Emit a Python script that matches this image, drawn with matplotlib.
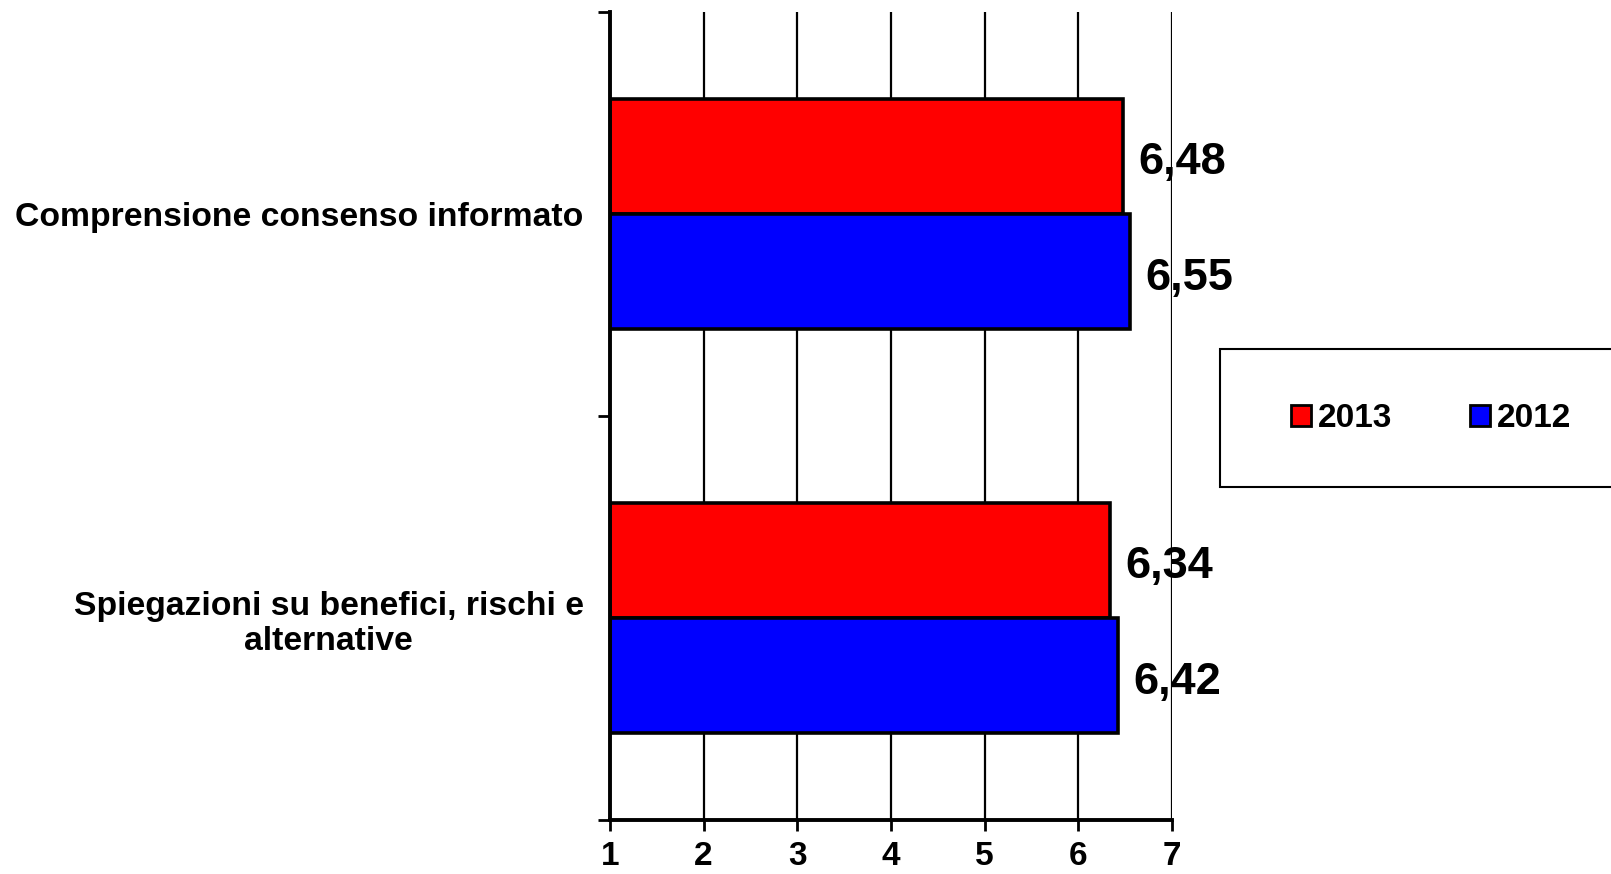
import matplotlib.pyplot as plt
from matplotlib.patches import Patch, Rectangle

categorie = ["Spiegazioni su benefici, rischi e\nalternative", "Comprensione consenso informato"]
anni = ["2013", "2012"]
valori_2013 = [6.34, 6.48]
valori_2012 = [6.42, 6.55]
colori = ["#ff0000", "#0000ff"]
x_ticks = [1, 2, 3, 4, 5, 6, 7]

plt.rcParams['font.family'] = ['Liberation Sans', 'DejaVu Sans']

fig = plt.figure(figsize=(16.11, 8.74), dpi=100)
ax = fig.add_axes([610 / 1611, 54 / 874, 562 / 1611, 808 / 874])

h = 0.285
pos = list(range(len(categorie)))
base = x_ticks[0]
for serie, col, off in [(valori_2013, colori[0], h / 2), (valori_2012, colori[1], -h / 2)]:
    y = [p + off for p in pos]
    ax.barh(y, [v - base for v in serie], left=base, height=h, color=col,
            edgecolor="black", linewidth=2.6, zorder=3)
    for yy, v in zip(y, serie):
        ax.annotate(f"{v:.2f}".replace(".", ","), (v, yy), xytext=(11, -13),
                    textcoords="offset points", va="baseline", ha="left",
                    fontsize=32.5, fontweight="bold")

ax.set_xlim(x_ticks[0], x_ticks[-1])
ax.set_ylim(-0.5, len(categorie) - 0.5)
ax.set_xticks(x_ticks)
ax.set_xticklabels([str(t) for t in x_ticks], fontsize=24, fontweight="bold")
ax.tick_params(axis="x", length=8, width=2, pad=7)

ax.set_yticks([-0.5, 0.5, 1.5])
ax.set_yticklabels([])
ax.tick_params(axis="y", which="major", length=9, width=2)
ax.set_yticks(pos, minor=True)
ax.set_yticklabels(categorie, minor=True, fontsize=24.3, fontweight="bold",
                   multialignment="center")
ax.tick_params(axis="y", which="minor", length=0, pad=19)

ax.xaxis.grid(True, color="black", linewidth=1.6)
ax.set_axisbelow(True)
for s in ["top", "right"]:
    ax.spines[s].set_visible(False)
for s in ["left", "bottom"]:
    ax.spines[s].set_linewidth(2.8)
    ax.spines[s].set_zorder(4)

# riquadro legenda (tagliato a destra come nell'originale)
fig.add_artist(Rectangle((1220 / 1611, 1 - 487 / 874), 0.3, 138 / 874,
                         transform=fig.transFigure, facecolor="white",
                         edgecolor="black", linewidth=1.5))
handles = [Patch(facecolor=c, edgecolor="black", linewidth=2) for c in colori]
leg = fig.legend(handles, anni, loc="center left", bbox_to_anchor=(1291 / 1611, 1 - 419 / 874),
                 frameon=False, ncol=2, prop={"size": 24, "weight": "bold"},
                 handlelength=0.6, handleheight=0.6, handletextpad=0.2,
                 columnspacing=2.35, borderpad=0, borderaxespad=0)

fig.savefig("out.png", dpi=100)
